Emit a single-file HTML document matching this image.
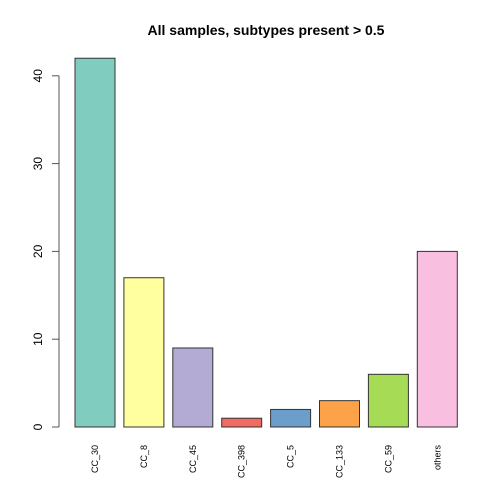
<!DOCTYPE html>
<html><head><style>body{margin:0;background:#fff}svg{display:block;font-family:"Liberation Sans",sans-serif}</style></head>
<body>
<svg id="c" width="504" height="504">
<text x="266" y="35" text-anchor="middle" font-weight="bold" font-size="14">All samples, subtypes present &gt; 0.5</text>
</svg>
<script>
const categories=["CC_30","CC_8","CC_45","CC_398","CC_5","CC_133","CC_59","others"];
const counts=[42,17,9,1,2,3,6,20];
const colors=["#80CDBF","#FFFFA0","#B3ABD3","#F26B60","#6C9ECB","#FCA34A","#A6DB55","#F8BFE0"];
const yTicks=[0,10,20,30,40];
const svg=document.getElementById('c');const NS="http://www.w3.org/2000/svg";
function y(v){return 427-v*8.78;}
function x(i){return 75+i*48.9;}
function mk(t,a){const e=document.createElementNS(NS,t);for(const k in a)e.setAttribute(k,a[k]);svg.appendChild(e);return e;}
categories.forEach((c,i)=>{
 const r=mk('rect',{x:x(i),y:y(counts[i]),width:40,height:427-y(counts[i]),fill:colors[i],stroke:'#333','stroke-width':1});
 
 
 const t=mk('text',{transform:`translate(${x(i)+23},445) rotate(-90)`,'text-anchor':'end','font-size':9});
 t.textContent=c;
 
 
});
const ax=mk('line',{x1:59,x2:59,y1:y(0),y2:y(40),stroke:'#555'});


yTicks.forEach(v=>{
 const l=mk('line',{x1:52,x2:59,y1:y(v),y2:y(v),stroke:'#555'});
 
 
 const t=mk('text',{transform:`translate(42,${y(v)}) rotate(-90)`,'text-anchor':'middle','font-size':12});
 t.textContent=v;
 
 
});
</script>
</body></html>
